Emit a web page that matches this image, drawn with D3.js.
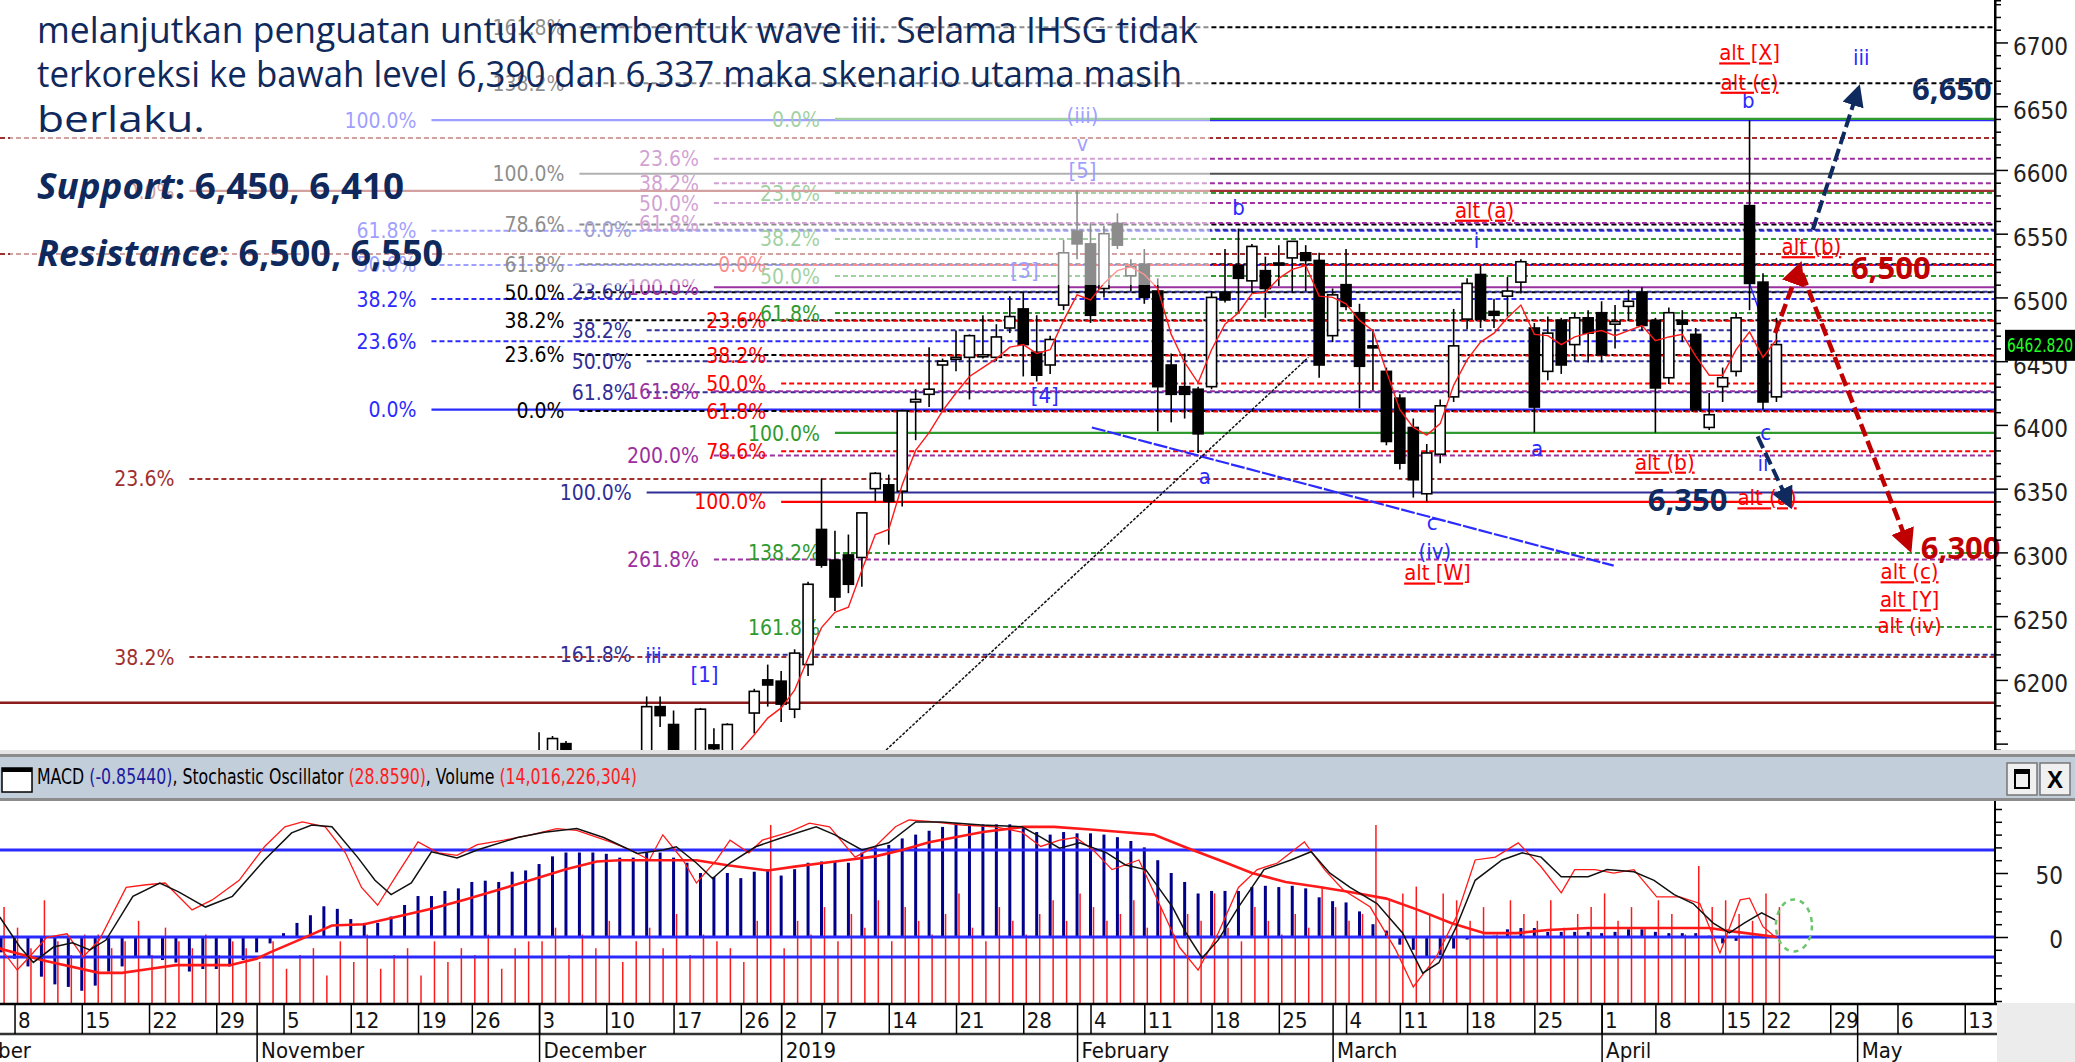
<!DOCTYPE html>
<html>
<head>
<meta charset="utf-8">
<script src="https://cdn.jsdelivr.net/npm/d3@7"></script>
<style>
body { margin: 0; background: #fff; }
svg { display: block; }
</style>
</head>
<body>
<svg id="chart" width="2075" height="1062"></svg>
<script>
// ---- calendar (IDX trading days) ----
var holidays = ["2018-11-20","2018-12-24","2018-12-25","2018-12-31","2019-01-01","2019-02-05","2019-03-07","2019-04-03","2019-04-17","2019-04-19"];

// ---- price data, index 0 = 1 Oct 2018 ----
var ohlcStart = 44;
var ohlc = [
  [6110,6159,6100,6133],[6133,6156,6125,6154],[6150,6152,6118,6128],[6128,6140,6095,6105],[6105,6132,6095,6125],
  [6120,6125,6070,6080],[6080,6102,6060,6092],[6095,6130,6090,6125],[6130,6187,6128,6179],[6179,6187,6163,6172],
  [6165,6176,6125,6135],[6135,6142,6115,6124],[6126,6178,6120,6177],[6149,6162,6140,6146],[6132,6166,6128,6165],
  [6140,6144,6118,6130],[6174,6193,6158,6191],[6200,6212,6179,6196],[6199,6207,6167,6181],[6177,6224,6170,6221],
  [6212,6277,6203,6275],[6318,6358,6288,6290],[6294,6317,6254,6265],[6298,6314,6268,6275],[6296,6331,6273,6331],
  [6350,6363,6340,6362],[6353,6361,6306,6340],[6348,6412,6336,6411],[6418,6428,6388,6420],[6424,6461,6414,6428],
  [6447,6452,6411,6450],[6452,6474,6442,6453],[6453,6471,6420,6470],[6454,6486,6452,6455],[6453,6479,6450,6469],
  [6476,6501,6472,6485],[6491,6504,6438,6463],[6457,6486,6434,6439],[6447,6470,6440,6467],[6494,6545,6490,6535],
  [6552,6584,6530,6542],[6542,6558,6480,6486],[6507,6556,6500,6550],[6558,6566,6538,6541],[6517,6530,6505,6524],
  [6526,6538,6495,6500],[6505,6515,6395,6430],[6447,6456,6402,6424],[6430,6456,6405,6424],[6428,6430,6378,6393],
  [6430,6505,6428,6500],[6504,6538,6496,6498],[6525,6554,6488,6515],[6513,6542,6504,6540],[6521,6532,6484,6507],
  [6527,6541,6509,6526],[6531,6544,6504,6544],[6535,6541,6505,6529],[6529,6535,6437,6447],[6470,6507,6465,6502],
  [6510,6538,6490,6493],[6488,6495,6413,6446],[6462,6475,6427,6461],[6442,6445,6384,6387],[6421,6424,6365,6370],
  [6398,6405,6343,6357],[6346,6385,6340,6378],[6377,6420,6370,6415],[6422,6491,6418,6462],[6483,6515,6475,6511],
  [6518,6525,6476,6483],[6489,6499,6476,6486],[6501,6516,6485,6505],[6512,6530,6503,6528],[6476,6480,6394,6414],
  [6442,6485,6435,6472],[6482,6484,6440,6447],[6463,6488,6450,6484],[6484,6490,6449,6472],[6488,6497,6449,6455],
  [6479,6494,6460,6481],[6493,6506,6482,6497],[6504,6508,6474,6478],[6482,6484,6394,6429],[6437,6492,6432,6488],
  [6482,6490,6465,6479],[6471,6476,6410,6412],[6398,6425,6396,6408],[6430,6445,6418,6437],[6442,6488,6438,6484],
  [6572,6639,6490,6511],[6512,6519,6412,6418],[6422,6484,6418,6463]
];

var maStart = 58;
var maValues = [6137,6145,6157,6170,6178,6192,6217,6241,6253,6257,6286,6314,6318,6353,6380,6394,6411,6425,6438,6445,
  6452,6461,6463,6456,6459,6482,6502,6498,6511,6521,6524,6518,6507,6471,6449,6433,6459,6479,6488,6503,
  6504,6515,6522,6525,6501,6500,6495,6482,6474,6442,6412,6398,6392,6401,6431,6451,6465,6472,6484,6494,
  6471,6470,6463,6469,6472,6474,6470,6474,6478,6466,6469,6471,6454,6439,6439,6459,6473,6453,6467];

// ---- fibonacci retracement tools ----
var fibStart = [36, 47, 52, 57, 62, 66, 18];
var fibZero  = [6412, 6411, 6553, 6640, 6525.5, 6640, 6583.5];
var fibFull  = [6639, 6597, 6347, 6508, 6339.6, 6393.7, 5626.5];
var fibShown = [
  [0, 23.6, 38.2, 50, 61.8, 100],
  [0, 23.6, 38.2, 50, 61.8, 78.6, 100, 138.2, 161.8],
  [0, 23.6, 38.2, 50, 61.8, 100, 161.8],
  [23.6, 38.2, 50, 61.8, 100, 161.8, 200, 261.8],
  [0, 23.6, 38.2, 50, 61.8, 78.6, 100],
  [0, 23.6, 38.2, 50, 61.8, 100, 138.2, 161.8],
  [0, 23.6, 38.2]
];
var extraDashed = [6625, 6534];
var extraSolid = [6182];

// trend lines [index, price]
var blueTrend = [[85.1, 6398], [123.9, 6289.6]];
var blackTrend = [[69.8, 6145], [101.2, 6453]];
var blueTick = [[134, 6511], [134.8, 6487]];

// projection arrows
var navyUp = [[138.7, 6553], [142.1, 6664]];
var navyDown = [[134.6, 6391], [137.0, 6337]];
var redUp = [[135.9, 6472], [137.75, 6525]];
var redDown = [[137.9, 6519], [145.9, 6303]];

// wave labels [index, price, text]
var waveBlue = [
  [84.4, 6643, "(iii)"], [84.4, 6621, "v"], [84.4, 6600, "[5]"], [80.1, 6521.6, "[3]"], [81.6, 6423, "[4]"],
  [56.3, 6204, "[1]"], [96, 6571, "b"], [93.5, 6360, "a"], [113.7, 6545, "i"], [118.2, 6382, "a"],
  [110.4, 6324, "c"], [110.6, 6301, "(iv)"], [133.9, 6655, "b"], [142.3, 6688, "iii"], [135.2, 6394, "c"],
  [135.0, 6370, "ii"], [52.5, 6219, "iii"]
];
var waveAlt = [
  [114.3, 6568.6, "alt (a)"], [134, 6692, "alt [X]"], [134, 6669, "alt (c)"], [138.6, 6540, "alt (b)"],
  [127.7, 6371, "alt (b)"], [135.3, 6343, "alt (a)"], [110.8, 6284, "alt [W]"], [145.9, 6285, "alt (c)"],
  [145.9, 6263, "alt [Y]"], [145.9, 6243, "alt (iv)"]
];
var targets = [[149.05, 6663.5, "6,650"], [144.5, 6523, "6,500"], [129.4, 6341, "6,350"], [149.7, 6303.5, "6,300"]];
var targetIsUp = [true, false, true, false];

// ---- lower pane: MACD, stochastic, volume ----
var lowStart = 3;
var macdValues = [-10,-12,-17,-23,-31,-37,-39,-42,-38,-27,-23,-16,-16,-18,-20,-27,-25,-25,-23,-18,
  -12,-5,3,11,17,24,22,14,11,11,16,25,32,32,36,38,43,44,43,51,
  52,57,63,66,66,66,65,62,62,66,66,62,58,50,47,50,46,51,53,48,
  53,58,59,59,58,66,70,72,77,80,83,86,89,88,88,88,88,85,82,80,
  82,81,81,80,78,75,70,60,50,43,34,36,36,36,39,40,39,40,38,31,
  28,27,20,10,5,-6,-10,-15,-14,-9,-2,0,1,6,7,7,4,4,4,4,
  3,4,6,6,4,3,3,3,1,-5,-3,0,-1,-0.85];
var volumeValues = [12,14,11,8,15,9,7,10,
  10,8,9,12,7,11,9,8,10,7,9,8,
  6,9,5,7,8,4,9,6,10,5,7,8,4,9,6,8,7,10,5,8,9,
  9,11,7,10,8,12,6,9,11,8,13,7,10,9,8,6,12,26,
  8,12,10,14,9,13,11,15,9,14,12,10,13,16,11,9,14,12,10,13,15,12,
  16,14,12,13,15,11,14,10,13,12,16,11,9,14,12,10,13,11,17,
  14,12,13,26,15,16,17,13,16,15,12,14,10,15,13,12,15,11,13,14,
  16,12,14,11,15,13,10,20,14,15,13,12,16,14];
var signalPts = [[3.9,-9],[7,-18],[11.3,-28],[13,-28],[15,-25],[17,-22],[21,-22],[23,-17],[24,-12],[26,-3],
  [28.6,9],[31,10],[33.5,16],[36,22],[38.4,29],[41,37],[43.4,44.5],[46,53],[48.3,59],[50,60],[53.3,60],[55.7,60],
  [58,56],[61,52],[63,55],[66,59],[69,63],[71,68],[73,74],[77,82],[80,86],[82.3,86],[85,84],[87.3,82],[89.7,80],
  [92.2,69.5],[94.6,60],[97,50],[99.5,43],[102,39],[104.4,35],[107,30],[109.4,21],[111.8,11],[114.3,3],[116.7,3],
  [119,5.5],[122,7],[131,7],[133,4],[136,0]];
var stochK = [[3.9,42.5],[5.4,25.6],[6.4,17],[7.9,25.6],[9.3,28],[10.6,24],[11.8,29.5],[13.8,54],[15.8,61.5],[17.2,56.5],
  [19.2,48],[21.2,54],[23.6,74.5],[25.6,89.6],[27.1,94],[28.6,93],[30.5,76],[31.8,63],[33,55],[34.5,61.5],[36,79],
  [37.9,75.5],[39.4,80],[42.4,87],[44.4,90],[46.8,92],[48.8,87],[51.3,78],[53.2,80],[54.2,81.8],[55.7,72.7],[56.9,64],
  [58.2,72.7],[60.1,81.8],[62.1,87],[64.6,93],[66,88.5],[68,80],[70,84],[72,95.7],[73.9,95.7],[76.9,94],[79.9,93],
  [81.3,87.2],[82.7,81],[84.2,84],[86.2,78.4],[87.6,71.6],[89.1,69],[91.1,48],[92.1,33.5],[93.3,19.5],[94.5,29.6],
  [96,48],[97.9,69],[99.9,74.4],[101.4,79],[102.8,67],[104.3,59],[106.3,50],[108.2,33.5],[109.7,11],[110.9,16.8],
  [112.2,37],[113.6,63],[115.6,74.4],[117.1,78.4],[118.5,76],[120,65],[122,65],[123.4,69],[125.4,67.8],[126.9,63],
  [128.4,55],[129.8,50],[131.3,39],[132.5,33.5],[133.6,39],[134.9,44.8],[135.9,40.8]];
var stochD = [[3.9,25.6],[5.2,12.7],[6.1,20],[7.4,31],[8.9,33],[10.1,20],[11.3,29.5],[13.3,59],[14.8,60.5],[16.2,61.5],
  [18.2,46.4],[19.7,52],[21.7,63],[23.6,82],[25.1,93],[26.4,95.7],[28.1,93],[29.6,78.4],[30.8,59],[32,49],[33.5,67],
  [35,84.5],[36.5,78.4],[37.9,77],[39.4,83],[41.4,85.5],[43.4,88.5],[45.3,92],[46.8,91],[49.3,84.5],[50.8,80],[52.2,74.4],
  [53.2,88.5],[54.7,74.4],[55.7,61.5],[57.2,74.4],[58.2,85.5],[59.6,78.4],[60.6,85.5],[62.6,90],[64.1,95],[65.6,93],
  [67.5,76],[69,82],[70.5,93],[71.5,96.8],[73,96],[75.4,94],[77.9,93],[79.9,90],[81.3,82],[82.7,85.5],[83.9,87],
  [85.2,80],[86.6,69],[88.6,74.4],[90.1,50],[91.6,25.6],[93,12.7],[94.5,33.5],[96,59],[97.4,69],[98.9,72.7],[100.9,84.5],
  [102.4,69],[103.8,57.6],[105.8,48],[107.7,24],[109,3.2],[110.7,20],[112.2,42.5],[113.6,74.4],[115.1,76],[116.8,84],
  [118.5,70.6],[120,56],[121,69],[122.5,69],[123.9,67],[125.4,69],[127.1,53.7],[128.8,53.7],[130.3,50],[131.8,22.3],
  [133.3,52],[134,53],[135,37],[136,30.7]];

var priceTicks = [6200, 6250, 6300, 6350, 6400, 6450, 6500, 6550, 6600, 6650, 6700];
var lastPrice = "6462.820";

var noteLines = [
  "melanjutkan penguatan untuk membentuk wave iii. Selama IHSG tidak",
  "terkoreksi ke bawah level 6,390 dan 6,337 maka skenario utama masih",
  "berlaku."
];

// ===================== drawing =====================
var W = 2075, H = 1062;
var axisX = 1995, mainBottom = 750, lowTop = 801, lowBottom = 1003;
var narrow = "'Liberation Sans Narrow', 'Arial Narrow', 'DejaVu Sans Condensed', sans-serif";
var navy = "#0f2a5e", darkRed = "#c00000";

var svg = d3.select("#chart");
svg.append("rect").attr("width", W).attr("height", H).attr("fill", "white");

var x = d3.scaleLinear().domain([3.92, 152.25]).range([0, axisX]);
var y = d3.scaleLinear().domain([6145, 6733.3]).range([mainBottom, 0]);
var yMacd = d3.scaleLinear().domain([0, 50]).range([937, 873]);
var yStoch = d3.scaleLinear().domain([0, 100]).range([992.7, 814.3]);
var yVol = d3.scaleLinear().domain([0, 29.2]).range([lowBottom, lowTop + 2]);

var defs = svg.append("defs");
defs.append("clipPath").attr("id", "mainClip").append("rect")
    .attr("x", 0).attr("y", 0).attr("width", axisX).attr("height", mainBottom);
defs.append("clipPath").attr("id", "lowClip").append("rect")
    .attr("x", 0).attr("y", lowTop).attr("width", axisX).attr("height", lowBottom - lowTop);

function marker(id, color, size) {
    defs.append("marker").attr("id", id).attr("viewBox", "0 0 10 10")
        .attr("refX", 8).attr("refY", 5).attr("markerUnits", "userSpaceOnUse")
        .attr("markerWidth", size).attr("markerHeight", size).attr("orient", "auto")
        .append("path").attr("d", "M0,0 L10,5 L0,10 z").attr("fill", color);
}
marker("headNavy", navy, 22);
marker("headRed", darkRed, 24);

// trading days
var fmtKey = d3.timeFormat("%Y-%m-%d");
var days = [];
for (var d = new Date(2018, 9, 1); d <= new Date(2019, 4, 17); d.setDate(d.getDate() + 1)) {
    var wd = d.getDay();
    if (wd === 0 || wd === 6 || holidays.indexOf(fmtKey(d)) >= 0) continue;
    days.push(new Date(d));
}
var weekIdx = [], monthIdx = [];
days.forEach(function(dd, i) {
    if (i === 0 || +d3.timeMonday.floor(dd) !== +d3.timeMonday.floor(days[i - 1])) weekIdx.push(i);
    if (i === 0 || dd.getMonth() !== days[i - 1].getMonth()) monthIdx.push(i);
});

var main = svg.append("g").attr("clip-path", "url(#mainClip)");

// fib lines
var fibColor = ["#2b2bff", "#000000", "#2e2e96", "#9b30a0", "#ff0000", "#2f9a2f", "#a03030"];
var fibSolidColor = ["#2b2bff", "#505050", "#2e2e96", "#9b30a0", "#ff0000", "#2f9a2f", "#a03030"];
var fibSolidZero = [true, false, false, false, false, true, true];

extraDashed.forEach(function(p) {
    main.append("line").attr("x1", 0).attr("x2", axisX).attr("y1", y(p)).attr("y2", y(p))
        .attr("stroke", "#a03030").attr("stroke-width", 2).attr("stroke-dasharray", "5,3");
});
extraSolid.forEach(function(p) {
    main.append("line").attr("x1", 0).attr("x2", axisX).attr("y1", y(p)).attr("y2", y(p))
        .attr("stroke", "#8b1a1a").attr("stroke-width", 2.5);
});

fibShown.forEach(function(levels, g) {
    levels.forEach(function(lv) {
        var price = fibZero[g] + (fibFull[g] - fibZero[g]) * lv / 100;
        var solid = lv === 100 || (lv === 0 && fibSolidZero[g]);
        main.append("line")
            .attr("x1", x(fibStart[g])).attr("x2", axisX)
            .attr("y1", y(price)).attr("y2", y(price))
            .attr("stroke", solid ? fibSolidColor[g] : fibColor[g])
            .attr("stroke-width", solid ? 2.2 : 2)
            .attr("stroke-dasharray", solid ? null : "5,3");
        main.append("text")
            .attr("x", x(fibStart[g]) - 15).attr("y", y(price)).attr("dy", "0.36em")
            .attr("text-anchor", "end")
            .attr("font-family", narrow).attr("font-size", 21)
            .attr("fill", fibColor[g])
            .text(lv.toFixed(1) + "%");
    });
});

// trend lines
var lineGen = d3.line().x(function(p) { return x(p[0]); }).y(function(p) { return y(p[1]); });
main.append("path").attr("d", lineGen(blueTrend)).attr("fill", "none")
    .attr("stroke", "#2b2bff").attr("stroke-width", 2.2).attr("stroke-dasharray", "14,2");
main.append("path").attr("d", lineGen(blackTrend)).attr("fill", "none")
    .attr("stroke", "#111").attr("stroke-width", 1.5).attr("stroke-dasharray", "3,1.5");
main.append("path").attr("d", lineGen(blueTick)).attr("fill", "none")
    .attr("stroke", "#2b2bff").attr("stroke-width", 1.5);

// candles
var candles = ohlc.map(function(c, k) { return { i: ohlcStart + k, o: c[0], h: c[1], l: c[2], c: c[3] }; });
var bodyW = 10;
main.selectAll(".wick").data(candles).enter().append("line")
    .attr("class", "wick")
    .attr("x1", function(d) { return x(d.i); }).attr("x2", function(d) { return x(d.i); })
    .attr("y1", function(d) { return y(d.h); }).attr("y2", function(d) { return y(d.l); })
    .attr("stroke", "black").attr("stroke-width", 1.6);
main.selectAll(".body").data(candles).enter().append("rect")
    .attr("class", "body")
    .attr("x", function(d) { return x(d.i) - bodyW / 2; })
    .attr("y", function(d) { return y(Math.max(d.o, d.c)); })
    .attr("width", bodyW)
    .attr("height", function(d) { return Math.max(2, Math.abs(y(d.o) - y(d.c))); })
    .attr("fill", function(d) { return d.c >= d.o ? "white" : "black"; })
    .attr("stroke", "black").attr("stroke-width", 1.6);

// moving average
var maPts = maValues.map(function(v, k) { return [maStart + k, v]; });
main.append("path").attr("d", lineGen(maPts)).attr("fill", "none")
    .attr("stroke", "#ff1a1a").attr("stroke-width", 1.4);

// wave labels
main.selectAll(".wave").data(waveBlue).enter().append("text")
    .attr("class", "wave")
    .attr("x", function(d) { return x(d[0]); }).attr("y", function(d) { return y(d[1]); })
    .attr("dy", "0.35em").attr("text-anchor", "middle")
    .attr("font-family", narrow).attr("font-size", 22).attr("fill", "#2b2bff")
    .text(function(d) { return d[2]; });
main.selectAll(".alt").data(waveAlt).enter().append("text")
    .attr("class", "alt")
    .attr("x", function(d) { return x(d[0]); }).attr("y", function(d) { return y(d[1]); })
    .attr("dy", "0.35em").attr("text-anchor", "middle")
    .attr("font-family", narrow).attr("font-size", 22).attr("fill", "#ff0000")
    .attr("text-decoration", function(d) { return d[2] === "alt (iv)" ? null : "underline"; })
    .text(function(d) { return d[2]; });

// overlay of the note box (semi-transparent white)
svg.append("rect").attr("x", 10).attr("y", 0).attr("width", 1200).attr("height", 285)
    .attr("fill", "white").attr("opacity", 0.55);

// projection arrows
svg.append("path").attr("d", lineGen(navyUp)).attr("fill", "none")
    .attr("stroke", navy).attr("stroke-width", 4).attr("stroke-dasharray", "13,5")
    .attr("marker-end", "url(#headNavy)");
svg.append("path").attr("d", lineGen(navyDown)).attr("fill", "none")
    .attr("stroke", navy).attr("stroke-width", 4).attr("stroke-dasharray", "13,5")
    .attr("marker-end", "url(#headNavy)");
svg.append("path").attr("d", lineGen(redUp)).attr("fill", "none")
    .attr("stroke", darkRed).attr("stroke-width", 4.5).attr("stroke-dasharray", "13,5")
    .attr("marker-end", "url(#headRed)");
svg.append("path").attr("d", lineGen(redDown)).attr("fill", "none")
    .attr("stroke", darkRed).attr("stroke-width", 4.5).attr("stroke-dasharray", "13,5")
    .attr("marker-end", "url(#headRed)");

// target labels
svg.selectAll(".target").data(targets).enter().append("text")
    .attr("class", "target")
    .attr("x", function(d) { return x(d[0]); }).attr("y", function(d) { return y(d[1]); })
    .attr("dy", "0.36em").attr("text-anchor", "middle")
    .attr("font-family", "'Open Sans', 'Noto Sans', sans-serif").attr("font-weight", 700).attr("font-size", 31)
    .attr("fill", function(d, k) { return targetIsUp[k] ? navy : darkRed; })
    .text(function(d) { return d[2]; });

// note text
var note = svg.append("g").attr("fill", "#10295c").attr("font-family", "'Open Sans', 'Noto Sans', sans-serif");
var noteWidth = [1161, 1145, 168];
var noteBase = [43, 87, 132];
noteLines.forEach(function(t, k) {
    note.append("text").attr("x", 37).attr("y", noteBase[k]).attr("font-size", 37)
        .attr("textLength", noteWidth[k]).attr("lengthAdjust", "spacingAndGlyphs").text(t);
});
var sup = note.append("text").attr("x", 37).attr("y", 199).attr("font-size", 35).attr("font-weight", 700)
    .attr("textLength", 367).attr("lengthAdjust", "spacingAndGlyphs");
sup.append("tspan").attr("font-style", "italic").text("Support");
sup.append("tspan").text(": 6,450, 6,410");
var res = note.append("text").attr("x", 37).attr("y", 266).attr("font-size", 35).attr("font-weight", 700)
    .attr("textLength", 406).attr("lengthAdjust", "spacingAndGlyphs");
res.append("tspan").attr("font-style", "italic").text("Resistance");
res.append("tspan").text(": 6,500, 6,550");

// price axis
var priceAxis = d3.axisRight(y).tickValues(d3.range(6150, 6731, 10))
    .tickSize(6).tickFormat(function(v) { return priceTicks.indexOf(v) >= 0 ? v : ""; });
var pa = svg.append("g").attr("transform", "translate(" + axisX + ",0)").call(priceAxis);
pa.select(".domain").attr("stroke", "black").attr("stroke-width", 2);
pa.selectAll(".tick line").attr("stroke", "black").attr("stroke-width", 1.5)
    .attr("x2", function(v) { return v % 50 === 0 ? 13 : 6; });
pa.selectAll(".tick text").attr("x", 73).attr("dy", "0.5em").attr("text-anchor", "end")
    .attr("font-family", narrow).attr("font-size", 24).attr("fill", "#222");

// last price box
svg.append("rect").attr("x", 2005).attr("y", y(6462.82) - 15).attr("width", 70).attr("height", 31).attr("fill", "black");
svg.append("text").attr("x", 2040).attr("y", y(6462.82)).attr("dy", "0.36em").attr("text-anchor", "middle")
    .attr("font-family", narrow).attr("font-size", 19).attr("fill", "#22ff22")
    .attr("textLength", 66).attr("lengthAdjust", "spacingAndGlyphs").text(lastPrice);

// ---- pane separator and title bar ----
svg.append("rect").attr("x", 0).attr("y", 750).attr("width", W).attr("height", 4).attr("fill", "#e4e4e4");
svg.append("rect").attr("x", 0).attr("y", 754).attr("width", W).attr("height", 3).attr("fill", "#8c8c8c");
svg.append("rect").attr("x", 0).attr("y", 757).attr("width", W).attr("height", 41).attr("fill", "#c3cedb");
svg.append("rect").attr("x", 0).attr("y", 798).attr("width", W).attr("height", 3).attr("fill", "#8c8c8c");
// window icon
svg.append("rect").attr("x", 2).attr("y", 768).attr("width", 30).attr("height", 24).attr("fill", "white")
    .attr("stroke", "black").attr("stroke-width", 1.5);
svg.append("rect").attr("x", 2).attr("y", 768).attr("width", 30).attr("height", 4).attr("fill", "black");
var title = svg.append("text").attr("x", 37).attr("y", 784).attr("font-family", narrow).attr("font-size", 21)
    .attr("textLength", 600).attr("lengthAdjust", "spacingAndGlyphs");
title.append("tspan").attr("fill", "black").text("MACD ");
title.append("tspan").attr("fill", "#1a1aa0").text("(-0.85440)");
title.append("tspan").attr("fill", "black").text(", Stochastic Oscillator ");
title.append("tspan").attr("fill", "#ff2020").text("(28.8590)");
title.append("tspan").attr("fill", "black").text(", Volume ");
title.append("tspan").attr("fill", "#ff2020").text("(14,016,226,304)");
// window buttons
[2007, 2040].forEach(function(bx, k) {
    svg.append("rect").attr("x", bx).attr("y", 763).attr("width", 30).attr("height", 32)
        .attr("fill", "#f0f0f0").attr("stroke", "#777").attr("stroke-width", 1.5);
    if (k === 0) {
        svg.append("rect").attr("x", bx + 8).attr("y", 770).attr("width", 14).attr("height", 18)
            .attr("fill", "none").attr("stroke", "black").attr("stroke-width", 2);
        svg.append("rect").attr("x", bx + 8).attr("y", 770).attr("width", 14).attr("height", 4).attr("fill", "black");
    } else {
        svg.append("text").attr("x", bx + 15).attr("y", 779).attr("dy", "0.36em").attr("text-anchor", "middle")
            .attr("font-family", "'Liberation Sans', sans-serif").attr("font-weight", 700).attr("font-size", 24).text("X");
    }
});

// ---- lower pane ----
var low = svg.append("g").attr("clip-path", "url(#lowClip)");
var volData = volumeValues.map(function(v, k) { return { i: lowStart + k, v: v }; });
var macdData = macdValues.map(function(v, k) { return { i: lowStart + k, v: v }; });

low.selectAll(".vol").data(volData).enter().append("line")
    .attr("class", "vol")
    .attr("x1", function(d) { return x(d.i) + 3; }).attr("x2", function(d) { return x(d.i) + 3; })
    .attr("y1", lowBottom).attr("y2", function(d) { return yVol(d.v); })
    .attr("stroke", "#ff1a1a").attr("stroke-width", 1.5);
low.selectAll(".macd").data(macdData).enter().append("line")
    .attr("class", "macd")
    .attr("x1", function(d) { return x(d.i); }).attr("x2", function(d) { return x(d.i); })
    .attr("y1", yMacd(0)).attr("y2", function(d) { return yMacd(d.v); })
    .attr("stroke", "#00008b").attr("stroke-width", 3);

[yStoch(80), yMacd(0), yStoch(20)].forEach(function(ly) {
    low.append("line").attr("x1", 0).attr("x2", axisX).attr("y1", ly).attr("y2", ly)
        .attr("stroke", "#2a2aff").attr("stroke-width", 3);
});

var sigLine = d3.line().x(function(p) { return x(p[0]); }).y(function(p) { return yMacd(p[1]); });
low.append("path").attr("d", sigLine(signalPts)).attr("fill", "none")
    .attr("stroke", "#ff1a1a").attr("stroke-width", 2.6);
var stLine = d3.line().x(function(p) { return x(p[0]); }).y(function(p) { return yStoch(p[1]); });
low.append("path").attr("d", stLine(stochD)).attr("fill", "none")
    .attr("stroke", "#ff1a1a").attr("stroke-width", 1.3);
low.append("path").attr("d", stLine(stochK)).attr("fill", "none")
    .attr("stroke", "#111").attr("stroke-width", 1.5);

// highlight ellipse
low.append("ellipse").attr("cx", x(137.3)).attr("cy", yMacd(9)).attr("rx", 18).attr("ry", 26)
    .attr("fill", "none").attr("stroke", "#6cc46c").attr("stroke-width", 2.5).attr("stroke-dasharray", "5,5");

// lower axis
var macdAxis = d3.axisRight(yMacd).tickValues(d3.range(-50, 101, 10)).tickSize(6)
    .tickFormat(function(v) { return (v === 0 || v === 50) ? v : ""; });
var la = svg.append("g").attr("transform", "translate(" + axisX + ",0)").call(macdAxis);
la.select(".domain").remove();
la.selectAll(".tick").filter(function(v) { return yMacd(v) < lowTop + 2 || yMacd(v) > lowBottom; }).remove();
la.selectAll(".tick line").attr("stroke", "black").attr("stroke-width", 1.5)
    .attr("x2", function(v) { return (v === 0 || v === 50) ? 13 : 7; });
la.selectAll(".tick text").attr("x", 68).attr("dy", "0.45em").attr("text-anchor", "end")
    .attr("font-family", narrow).attr("font-size", 24).attr("fill", "#222");
svg.append("line").attr("x1", axisX).attr("x2", axisX).attr("y1", lowTop).attr("y2", lowBottom)
    .attr("stroke", "black").attr("stroke-width", 2);

// ---- date axis ----
svg.append("rect").attr("x", axisX + 2).attr("y", lowBottom).attr("width", W - axisX).attr("height", H - lowBottom).attr("fill", "#ececec");
svg.append("line").attr("x1", 0).attr("x2", axisX + 2).attr("y1", lowBottom + 1).attr("y2", lowBottom + 1)
    .attr("stroke", "black").attr("stroke-width", 2.5);
svg.append("line").attr("x1", 0).attr("x2", axisX + 2).attr("y1", 1034).attr("y2", 1034)
    .attr("stroke", "#333").attr("stroke-width", 2.5);

var dayAxis = d3.axisBottom(x).tickValues(weekIdx).tickSize(31)
    .tickFormat(function(i) { return days[i].getDate(); });
var da = svg.append("g").attr("transform", "translate(0," + lowBottom + ")").call(dayAxis);
da.select(".domain").remove();
da.selectAll(".tick line").attr("stroke", "black").attr("stroke-width", 1.5);
da.selectAll(".tick text").attr("x", 3).attr("y", 17).attr("dy", "0.36em").attr("text-anchor", "start")
    .attr("font-family", narrow).attr("font-size", 22).attr("fill", "#111");

var monthFmt = d3.timeFormat("%B");
var monthAxis = d3.axisBottom(x).tickValues(monthIdx).tickSize(59)
    .tickFormat(function(i) { return days[i].getMonth() === 0 ? days[i].getFullYear() : monthFmt(days[i]); });
var ma = svg.append("g").attr("transform", "translate(0," + lowBottom + ")").call(monthAxis);
ma.select(".domain").remove();
ma.selectAll(".tick line").attr("stroke", "black").attr("stroke-width", 1.5);
ma.selectAll(".tick text").attr("x", 4).attr("y", 47).attr("dy", "0.36em").attr("text-anchor", "start")
    .attr("font-family", narrow).attr("font-size", 22).attr("fill", "#111");

// main price axis line on top
svg.append("line").attr("x1", axisX).attr("x2", axisX).attr("y1", 0).attr("y2", mainBottom)
    .attr("stroke", "black").attr("stroke-width", 2);
</script>
</body>
</html>
